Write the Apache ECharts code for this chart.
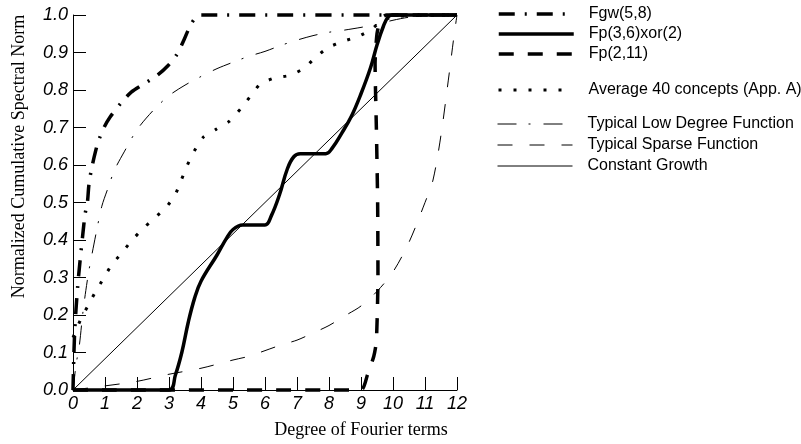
<!DOCTYPE html>
<html><head><meta charset="utf-8">
<script src="https://cdn.jsdelivr.net/npm/echarts@6/dist/echarts.min.js"></script>
<style>html,body{margin:0;padding:0;background:#fff}#c{width:801px;height:444px}</style>
</head><body><div id="c"></div>
<script>
const yTickLabels = ['0.0','0.1','0.2','0.3','0.4','0.5','0.6','0.7','0.8','0.9','1.0'];
const xTickLabels = ['0','1','2','3','4','5','6','7','8','9','10','11','12'];
const seriesNames = ['Fgw(5,8)','Fp(3,6)xor(2)','Fp(2,11)','Average 40 concepts (App. A)','Typical Low Degree Function','Typical Sparse Function','Constant Growth'];

const fgw = [[0,0],[0.05,0.15],[0.15,0.28],[0.3,0.41],[0.38,0.47],[0.45,0.5],[0.5,0.55],[0.58,0.59],[0.7,0.635],[0.8,0.665],[0.97,0.7],[1.16,0.728],[1.52,0.767],[1.83,0.795],[2.15,0.813],[2.63,0.839],[2.98,0.866],[3.24,0.894],[3.47,0.934],[3.66,0.971],[3.85,0.995],[4.0,1.0],[12,1.0]];
const fpXor = [[0,0],[3.0,0],[3.2,0.04],[3.4,0.1],[3.6,0.18],[3.8,0.245],[4.0,0.29],[4.5,0.36],[4.8,0.405],[5.0,0.428],[5.3,0.44],[6.0,0.44],[6.2,0.465],[6.45,0.52],[6.7,0.59],[6.9,0.622],[7.1,0.63],[7.9,0.63],[8.1,0.645],[8.4,0.685],[8.7,0.73],[9.0,0.79],[9.3,0.86],[9.5,0.92],[9.7,0.97],[9.85,0.995],[10.0,1.0],[12,1.0]];
const fp211 = [[0,0],[9.0,0],[9.2,0.04],[9.4,0.09],[9.48,0.13],[9.53,0.3],[9.52,0.5],[9.48,0.7],[9.44,0.87],[9.5,0.95],[9.62,0.99],[9.8,1.0],[12,1.0]];
const avg40 = [[0,0.14],[0.25,0.19],[0.45,0.222],[0.69,0.26],[0.95,0.297],[1.21,0.334],[1.52,0.365],[1.83,0.398],[2.17,0.429],[2.53,0.457],[2.9,0.486],[3.19,0.52],[3.38,0.559],[3.57,0.599],[3.79,0.637],[4.07,0.674],[4.47,0.695],[4.89,0.717],[5.24,0.75],[5.53,0.782],[5.84,0.815],[6.29,0.832],[6.78,0.839],[7.22,0.858],[7.58,0.887],[7.97,0.913],[8.45,0.93],[8.92,0.943],[9.33,0.962],[9.69,0.987],[10.2,0.997],[12,1.0]];
const lowDeg = [[0,0],[0.1,0.07],[0.2,0.12],[0.3,0.2],[0.4,0.265],[0.5,0.32],[0.6,0.365],[0.75,0.43],[0.9,0.49],[1.1,0.54],[1.3,0.587],[1.6,0.635],[2.0,0.694],[2.5,0.745],[3.0,0.785],[3.5,0.813],[4.0,0.836],[4.5,0.857],[5.0,0.874],[5.5,0.89],[6.0,0.903],[6.5,0.919],[7.0,0.933],[7.5,0.945],[8.0,0.954],[8.5,0.96],[9.0,0.967],[9.5,0.975],[10.0,0.986],[10.6,0.995],[12,1.0]];
const sparse = [[0,0],[1,0.011],[2,0.023],[3,0.042],[4,0.058],[5,0.08],[5.5,0.09],[6,0.105],[6.5,0.12],[7,0.133],[7.5,0.152],[8,0.172],[8.5,0.198],[9,0.224],[9.5,0.263],[10,0.315],[10.5,0.394],[11,0.5],[11.25,0.56],[11.5,0.68],[11.75,0.84],[11.9,0.94],[12,1.0]];
const constant = [[0,0],[12,1]];

const styles = {
  'Fgw(5,8)': {width:3.5, type:[16,10,2,10]},
  'Fp(3,6)xor(2)': {width:3.5, type:'solid'},
  'Fp(2,11)': {width:3.5, type:[15,14]},
  'Average 40 concepts (App. A)': {width:3, type:[3,12]},
  'Typical Low Degree Function': {width:1, type:[19,12,2,13]},
  'Typical Sparse Function': {width:1, type:[15,17]},
  'Constant Growth': {width:1, type:'solid'}
};
const dataMap = {
  'Fgw(5,8)': fgw, 'Fp(3,6)xor(2)': fpXor, 'Fp(2,11)': fp211,
  'Average 40 concepts (App. A)': avg40, 'Typical Low Degree Function': lowDeg,
  'Typical Sparse Function': sparse, 'Constant Growth': constant
};
const smoothMap = {'Fgw(5,8)':0.3,'Fp(3,6)xor(2)':0.4,'Fp(2,11)':0.2,'Average 40 concepts (App. A)':0.2,'Typical Low Degree Function':0.3,'Typical Sparse Function':0.3,'Constant Growth':false};
const zMap = {'Constant Growth':1,'Typical Sparse Function':2,'Typical Low Degree Function':3,'Average 40 concepts (App. A)':4,'Fp(2,11)':5,'Fp(3,6)xor(2)':6,'Fgw(5,8)':7};

const chart = echarts.init(document.getElementById('c'), null, {renderer:'canvas'});
const legendText = {color:'#000', fontSize:16, fontFamily:'Arial', lineHeight:16, padding:[0,0,0,10]};
function mkLegend(top, gap, names){
  return {orient:'vertical', left:497, top:top, itemWidth:75, itemHeight:16, itemGap:gap, padding:0,
    selectedMode:false, textStyle:legendText,
    data:names.map(n=>({name:n, itemStyle:{opacity:0, color:'rgba(0,0,0,0)', borderColor:'rgba(0,0,0,0)', borderWidth:0},
      lineStyle:{color:'#000', width:styles[n].width, type:styles[n].type, opacity:1}}))};
}
const italicRich = {i:{color:'#000', fontStyle:'italic', fontSize:18, fontFamily:'Liberation Sans', lineHeight:20}};
const nameFont = {color:'#000', fontSize:18, fontFamily:'Times New Roman'};
chart.setOption({
  animation:false,
  backgroundColor:'#fff',
  grid:{left:73, right:344, top:15, bottom:50, containLabel:false},
  legend:[mkLegend(6,4,seriesNames.slice(0,3)), mkLegend(82,3,seriesNames.slice(3,4)), mkLegend(116,5,seriesNames.slice(4))],
  xAxis:{type:'value', min:0, max:12, interval:1,
    name:'Degree of Fourier terms', nameLocation:'middle', nameGap:31,
    nameTextStyle:Object.assign({padding:[0,0,0,192]}, nameFont),
    axisLine:{show:true, onZero:false, lineStyle:{color:'#000', width:1}},
    axisTick:{show:true, inside:true, length:13, lineStyle:{color:'#000', width:1}},
    axisLabel:{margin:4, color:'#000', fontStyle:'italic', fontSize:18, fontFamily:'Liberation Sans',
      formatter:(v,i)=>'{i|'+xTickLabels[i]+'}', rich:italicRich},
    splitLine:{show:false}},
  yAxis:{type:'value', min:0, max:1, interval:0.1,
    name:'Normalized Cumulative Spectral Norm', nameLocation:'middle', nameGap:45,
    nameTextStyle:Object.assign({padding:[0,0,0,92]}, nameFont),
    axisLine:{show:true, onZero:false, lineStyle:{color:'#000', width:1}},
    axisTick:{show:true, inside:true, length:13, lineStyle:{color:'#000', width:1}},
    axisLabel:{margin:5, color:'#000', fontStyle:'italic', fontSize:18, fontFamily:'Liberation Sans',
      formatter:(v,i)=>'{i|'+yTickLabels[i]+'}', rich:italicRich},
    splitLine:{show:false}},
  series:seriesNames.map(n=>({
    name:n, type:'line', data:dataMap[n], showSymbol:false, symbol:'none',
    smooth:smoothMap[n], clip:false, z:zMap[n],
    lineStyle:{color:'#000', width:styles[n].width, type:styles[n].type, cap:'butt'},
    itemStyle:{color:'#000'}, emphasis:{disabled:true}
  }))
});
</script></body></html>
